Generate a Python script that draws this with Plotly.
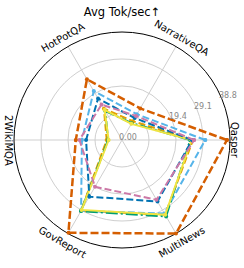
import plotly.graph_objects as go
import math

categories = ["Qasper", "NarrativeQA", "HotPotQA", "2WikiMQA", "GovReport", "MultiNews"]
label_angles = [90, 30, -30, 90, 30, -30]

# series values (Avg Tok/sec) per category
s_gold    = [25.5, 7.8, 13.0, 5.5, 29.4, 31.0]
s_sky     = [29.9, 10.7, 20.3, 14.4, 29.4, 30.5]
s_green   = [24.5, 7.0, 12.0, 5.0, 29.5, 31.7]
s_yellow  = [25.0, 6.7, 12.5, 4.8, 29.0, 31.0]
s_blue    = [25.2, 9.1, 17.2, 12.9, 23.5, 25.5]
s_verm    = [37.7, 13.1, 25.2, 16.6, 38.5, 38.8]
s_pink    = [25.9, 10.0, 14.7, 15.3, 19.4, 24.8]

radial_ticks = [0, 9.7, 19.4, 29.1, 38.8]
radial_labels = ["0.00", "", "19.4", "29.1", "38.8"]
r_max = 38.8

series = [
    (s_gold,   "#E69F00", "7px,3px", 2.0),
    (s_sky,    "#56B4E9", "7px,3px", 2.0),
    (s_green,  "#009E73", "12px,3px,2px,3px", 2.0),
    (s_yellow, "#F0E442", "solid", 2.0),
    (s_blue,   "#0072B2", "7px,3px", 2.0),
    (s_pink,   "#CC79A7", "7px,3px", 2.0),
    (s_verm,   "#D55E00", "8px,3px", 2.5),
]

W, H = 244, 268
cx, cy, R = 122, 140, 108  # pixel geometry of the polar area

fig = go.Figure()
for vals, col, dash, lw in series:
    fig.add_trace(go.Scatterpolar(
        r=vals + vals[:1], theta=categories + categories[:1],
        mode="lines+markers",
        line=dict(color=col, width=lw, dash=dash),
        marker=dict(color=col, size=4),
        showlegend=False, hoverinfo="skip",
    ))

fig.update_layout(
    width=W, height=H,
    margin=dict(l=0, r=0, t=0, b=0),
    paper_bgcolor="white",
    font=dict(family="DejaVu Sans", color="black"),
    showlegend=False,
    title=dict(text="Avg Tok/sec↑", x=0.5, xanchor="center", y=1 - 12 / H, yanchor="middle",
               font=dict(size=11.5, family="DejaVu Sans", color="black")),
    polar=dict(
        domain=dict(x=[(cx - R) / W, (cx + R) / W], y=[(H - cy - R) / H, (H - cy + R) / H]),
        bgcolor="white",
        angularaxis=dict(
            rotation=0, direction="counterclockwise",
            categoryorder="array", categoryarray=categories,
            showticklabels=False, ticks="",
            showline=True, linecolor="black", linewidth=1,
            gridcolor="#cfcfcf", gridwidth=1, layer="below traces",
        ),
        radialaxis=dict(
            range=[0, r_max], tickvals=radial_ticks, showticklabels=False,
            angle=22.5, showline=False, ticks="",
            gridcolor="#cfcfcf", gridwidth=1, layer="below traces",
        ),
    ),
)

# category labels, placed tangentially just outside the circle
for i, (cat, ang) in enumerate(zip(categories, label_angles)):
    th = math.radians(60 * i)
    d = R + 5 if i % 3 == 0 else R + 10
    fig.add_annotation(
        x=(cx + d * math.cos(th)) / W, y=(H - cy + d * math.sin(th)) / H,
        xref="paper", yref="paper", text=cat, showarrow=False, textangle=ang,
        xanchor="center", yanchor="middle", borderpad=0,
        font=dict(size=10, family="DejaVu Sans", color="black"),
    )

# radial tick labels along the 22.5 degree ray
th = math.radians(22.5)
for v, t in zip(radial_ticks, radial_labels):
    if not t:
        continue
    d = v / r_max * R + 7
    fig.add_annotation(
        x=(cx + d * math.cos(th)) / W, y=(H - cy + d * math.sin(th)) / H,
        xref="paper", yref="paper", text=t, showarrow=False,
        xanchor="center", yanchor="middle", borderpad=0,
        font=dict(size=8, family="DejaVu Sans", color="#888888"),
    )

fig.write_html("out.html", config={"displayModeBar": False},
               post_script="document.body.style.margin='0px';")
